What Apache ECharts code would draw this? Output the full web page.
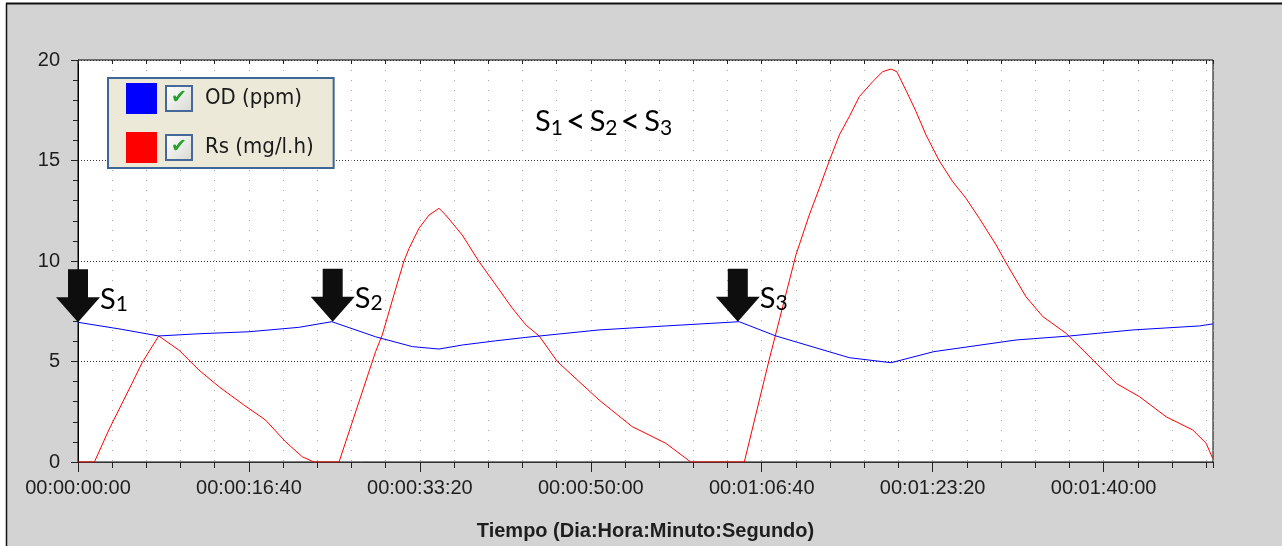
<!DOCTYPE html>
<html>
<head>
<meta charset="utf-8">
<script src="https://cdn.jsdelivr.net/npm/echarts@6/dist/echarts.min.js"></script>
<style>
html,body{margin:0;padding:0;background:#fff;}
#chart{width:1282px;height:546px;}
</style>
</head>
<body>
<div id="chart"></div>
<script>
// ---- data (time in seconds) ----
const odTime   = [0, 256, 472, 707, 1000, 1292, 1485, 1741, 1956, 2112, 2248, 2444, 2620, 3048, 3439, 3829, 3868, 4083, 4512, 4757, 5007, 5488, 5801, 6171, 6561, 6639];
const odValues = [6.95, 6.6, 6.27, 6.38, 6.48, 6.7, 6.98, 6.23, 5.74, 5.62, 5.82, 6.03, 6.2, 6.57, 6.77, 6.96, 6.98, 6.27, 5.19, 4.94, 5.49, 6.07, 6.27, 6.57, 6.77, 6.87];

const rsTime   = [0, 96, 180, 316, 375, 472, 590, 707, 824, 970, 1097, 1214, 1312, 1380, 1527, 1741, 1780, 1848, 1907, 1937, 1995, 2054, 2112, 2151, 2248, 2346, 2444, 2541, 2620, 2698, 2804, 3049, 3242, 3439, 3585, 3898, 4043, 4200, 4278, 4337, 4395, 4454, 4512, 4571, 4649, 4707, 4756, 4790, 4848, 4903, 4961, 5039, 5117, 5195, 5273, 5371, 5430, 5546, 5645, 5781, 5879, 6074, 6210, 6366, 6522, 6600, 6637];
const rsValues = [0, 0, 1.59, 3.91, 4.94, 6.27, 5.57, 4.58, 3.75, 2.84, 2.09, 1.01, 0.26, 0, 0, 5.49, 6.32, 8.31, 10.0, 10.63, 11.63, 12.29, 12.62, 12.29, 11.29, 9.97, 8.81, 7.65, 6.82, 6.27, 5.0, 3.08, 1.76, 0.93, 0, 0, 5.07, 10.3, 12.29, 13.62, 14.98, 16.27, 17.18, 18.18, 18.92, 19.42, 19.55, 19.42, 18.42, 17.43, 16.27, 14.98, 13.95, 13.12, 12.12, 10.8, 9.9, 8.22, 7.23, 6.4, 5.57, 3.91, 3.25, 2.25, 1.59, 0.93, 0.2];

const xTickLabels = ['00:00:00:00', '00:00:16:40', '00:00:33:20', '00:00:50:00', '00:01:06:40', '00:01:23:20', '00:01:40:00'];
const yTickValues = [0, 5, 10, 15, 20];

const arrowTimes  = [0, 1490, 3860];
const arrowValues = [6.95, 6.98, 6.98];
const arrowSubs   = ['1', '2', '3'];

const seriesNames = ['OD (ppm)', 'Rs (mg/l.h)'];
// ---------------------------------

const chart = echarts.init(document.getElementById('chart'));
const AXC = '#1e1e1e';
const LAB_FONT = 'Liberation Sans, Arial, sans-serif';
const S_FONT = 'Lato, Carlito, sans-serif';

const sRich = {
  s: {fontSize: 29, fontFamily: S_FONT, color: '#000', lineHeight: 30},
  n: {fontSize: 21, fontFamily: S_FONT, color: '#000', lineHeight: 27, verticalAlign: 'bottom'},
  lt: {fontSize: 34, fontFamily: S_FONT, color: '#000', lineHeight: 34, padding: [0, 4, 0, 3]}
};

const xMin = 0, xMax = 6640;

const option = {
  backgroundColor: '#d3d3d3',
  animation: false,
  graphic: [
    {type: 'rect', silent: true, shape: {x: 0, y: 0, width: 1282, height: 3}, style: {fill: '#fff'}},
    {type: 'rect', silent: true, shape: {x: 0, y: 0, width: 6, height: 546}, style: {fill: '#fff'}},
    {type: 'line', silent: true, shape: {x1: 6, y1: 3.5, x2: 1282, y2: 3.5}, style: {stroke: '#111', lineWidth: 2}},
    {type: 'line', silent: true, shape: {x1: 6.5, y1: 3, x2: 6.5, y2: 546}, style: {stroke: '#111', lineWidth: 1.5}},
    {type: 'text', silent: true, x: 535, y: 105, z: 10,
      style: {text: '{s|S}{n|1}{lt|<}{s|S}{n|2}{lt|<}{s|S}{n|3}', rich: sRich, verticalAlign: 'top', align: 'left'}}
  ],
  grid: {left: 78, right: 69, top: 60, bottom: 84, show: true, backgroundColor: '#fff', borderColor: '#000', borderWidth: 1},
  legend: {
    orient: 'vertical', left: 108, top: 78,
    itemWidth: 31, itemHeight: 31, itemGap: 18,
    padding: [5, 20, 5, 18],
    backgroundColor: '#ece9d8', borderColor: '#3d6796', borderWidth: 2,
    selectedMode: false,
    data: [{name: seriesNames[0], icon: 'rect'}, {name: seriesNames[1], icon: 'rect'}],
    formatter: function (name) { return '{sp|}{cb|✔}{sp2|}{t|' + name + '}'; },
    textStyle: {
      rich: {
        sp: {width: 5},
        cb: {width: 24, height: 23, lineHeight: 23, align: 'center', fontSize: 19, color: '#23a12c',
             fontFamily: 'DejaVu Sans', borderColor: '#46699a', borderWidth: 2,
             backgroundColor: {type: 'linear', x: 0, y: 0, x2: 1, y2: 1, colorStops: [{offset: 0, color: '#ffffff'}, {offset: 1, color: '#d8d8d2'}]}},
        sp2: {width: 14},
        t: {fontSize: 22, fontFamily: 'Liberation Sans Narrow, DejaVu Sans Condensed, Arial, sans-serif', color: '#1a1a1a'}
      }
    }
  },
  xAxis: [
    {
      type: 'value', position: 'bottom', gridIndex: 0, min: xMin, max: xMax, interval: 1000,
      name: 'Tiempo (Dia:Hora:Minuto:Segundo)', nameLocation: 'middle', nameGap: 59,
      nameTextStyle: {fontSize: 20, fontWeight: 'bold', fontFamily: LAB_FONT, color: AXC},
      axisLine: {show: true, lineStyle: {color: '#333', width: 1}},
      axisTick: {show: true, length: 10, lineStyle: {color: '#222'}},
      axisLabel: {show: true, margin: 16, fontSize: 20, fontFamily: LAB_FONT, color: AXC, showMaxLabel: false,
        formatter: function (v) { const i = Math.round(v / 1000); return (v % 1000 === 0 && xTickLabels[i]) ? xTickLabels[i] : ''; }},
      splitLine: {show: false}
    },
    {
      type: 'value', position: 'bottom', gridIndex: 0, min: xMin, max: xMax, interval: 200,
      axisLine: {show: false}, axisLabel: {show: false},
      axisTick: {show: true, length: 6, lineStyle: {color: '#222'}},
      splitLine: {show: true, lineStyle: {color: '#a8a8a8', width: 1, type: [1, 9]}}
    },
    {
      type: 'value', position: 'top', gridIndex: 0, min: xMin, max: xMax, interval: 200,
      axisLine: {show: false}, axisLabel: {show: false},
      axisTick: {show: true, inside: true, length: 4, lineStyle: {color: '#222'}},
      splitLine: {show: false}
    }
  ],
  yAxis: {
    type: 'value', min: yTickValues[0], max: yTickValues[yTickValues.length - 1], interval: 5,
    axisLine: {show: true, lineStyle: {color: '#000', width: 1}},
    axisTick: {show: true, length: 7, lineStyle: {color: '#222'}},
    minorTick: {show: true, splitNumber: 5, length: 5, lineStyle: {color: '#222'}},
    axisLabel: {margin: 18, fontSize: 20, fontFamily: LAB_FONT, color: AXC},
    splitLine: {show: true, lineStyle: {color: '#333', width: 1, type: [1, 2]}}
  },
  series: [
    {
      name: seriesNames[0], type: 'line', xAxisIndex: 0, symbol: 'none', showSymbol: false, z: 3,
      data: odTime.map((t, i) => [t, odValues[i]]),
      lineStyle: {color: '#0000ff', width: 1}, itemStyle: {color: '#0000ff'},
      markPoint: {
        symbol: 'path://M12,0 L32,0 L32,28 L44,28 L22,53 L0,28 L12,28 Z',
        symbolSize: [44, 53], symbolOffset: [0, '-50%'], symbolKeepAspect: false,
        itemStyle: {color: '#0e0e0e'}, silent: true,
        label: {show: true, position: [44, 45], align: 'left', verticalAlign: 'bottom', rich: sRich},
        data: arrowTimes.map((t, i) => ({
          coord: [t, arrowValues[i]],
          label: {formatter: '{s|S}{n|' + arrowSubs[i] + '}'}
        }))
      }
    },
    {
      name: seriesNames[1], type: 'line', xAxisIndex: 0, symbol: 'none', showSymbol: false, z: 2,
      data: rsTime.map((t, i) => [t, rsValues[i]]),
      lineStyle: {color: '#ff0000', width: 1}, itemStyle: {color: '#ff0000'}
    }
  ]
};
chart.setOption(option);
</script>
</body>
</html>
